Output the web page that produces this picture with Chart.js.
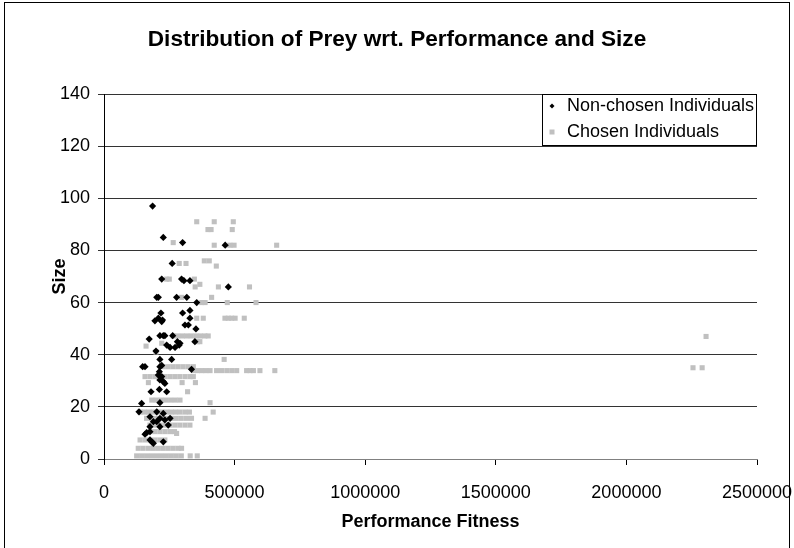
<!DOCTYPE html>
<html>
<head>
<meta charset="utf-8">
<title>Distribution of Prey wrt. Performance and Size</title>
<script src="https://cdn.jsdelivr.net/npm/chart.js@4.4.0/dist/chart.umd.min.js"></script>
<style>
  html, body { margin: 0; padding: 0; background: #fff; }
  #wrap { width: 794px; height: 548px; position: relative; }
</style>
</head>
<body>
<div id="wrap"><canvas id="chart" width="794" height="548"></canvas></div>
<script>
// Prey that were not chosen: performance fitness and size
const nonChosenFitness = [
  186000, 227000, 301000, 464000, 261000,
  221000, 297000, 306000, 329000,
  476000,
  202000, 208000, 278000, 317000,
  355000, 329000, 218000, 301000,
  195000, 208000, 221000, 224000, 310000, 323000, 329000, 352000,
  214000, 227000, 233000, 263000, 281000, 291000, 173000, 348000,
  240000, 253000, 272000, 288000, 199000,
  214000, 259000,
  148000, 157000, 214000, 221000, 335000,
  212000, 208000, 221000, 214000, 227000, 233000,
  180000, 212000, 240000,
  144000, 214000,
  134000, 202000, 227000,
  176000, 214000, 233000, 253000, 189000, 202000,
  176000, 214000, 246000,
  163000, 176000, 157000,
  176000, 183000, 189000, 227000
];
const nonChosenSize = [
  97, 85, 83, 82, 75,
  69, 69, 68.4, 68.4,
  66,
  62, 62, 62, 62,
  60, 57, 56, 56,
  53, 54, 52.7, 53.3, 51.4, 51.4, 54, 49.9,
  47.3, 47.3, 47.3, 47.3, 45, 44.4, 46, 45,
  43.7, 42.8, 42.8, 43.7, 41.4,
  38.2, 38.2,
  35.4, 35.4, 35.4, 35.9, 34.4,
  33.5, 32.2, 31.6, 30.3, 29.7, 29,
  25.8, 26.7, 25.8,
  21.3, 21.6,
  18.1, 18.1, 17.5,
  16.2, 15.6, 15, 15.6, 14.3, 14.3,
  12.4, 12.4, 13,
  10.1, 10.5, 9.5,
  7.3, 6.6, 6, 6.6
];

// Prey that were chosen: performance fitness and size
const chosenFitness = [
  355000, 422000, 495000,
  398000, 410000, 491000,
  265000,
  422000, 482000, 498000, 661000,
  384000, 403000,
  288000, 314000,
  430000,
  240000, 250000, 346000,
  367000,
  349000, 438000, 557000,
  297000, 412000,
  374000, 387000, 472000, 582000,
  355000, 380000, 463000, 476000, 489000, 502000, 537000,
  265000, 282000, 300000, 317000, 334000, 352000, 369000, 386000, 399000,
  358000, 367000,
  221000, 161000, 199000, 460000,
  227000, 246000, 265000, 284000, 303000, 322000, 342000,
  342000, 358000, 374000, 390000, 406000, 431000, 450000, 470000, 489000, 508000, 546000, 559000, 572000, 597000, 654000,
  157000, 176000, 195000, 214000, 233000, 252000, 271000, 290000, 310000, 329000, 342000,
  170000, 299000, 350000,
  320000,
  183000, 200000, 218000, 236000, 255000, 273000, 291000,
  406000,
  138000, 155000, 172000, 189000, 206000, 223000, 240000, 257000, 274000, 291000, 310000, 327000, 418000,
  163000, 182000, 201000, 220000, 239000, 258000, 277000, 296000, 316000, 335000, 387000,
  176000, 195000, 214000, 233000, 252000, 271000, 290000, 310000, 329000,
  176000, 195000, 214000, 233000, 252000, 270000, 278000,
  138000, 157000, 176000, 195000, 214000, 233000,
  131000, 150000, 170000, 189000, 208000, 227000, 246000, 265000, 284000, 297000,
  125000, 144000, 163000, 182000, 201000, 220000, 239000, 258000, 277000, 296000, 330000, 357000,
  2255000, 2290000, 2305000
];
const chosenSize = [
  91, 91, 91,
  88, 88, 88,
  83,
  82, 82, 82, 82,
  76, 76,
  75, 75,
  74,
  69, 69, 69,
  67,
  66, 66, 66,
  62, 62,
  60, 60, 60, 60,
  54, 54, 54, 54, 54, 54, 54,
  47.2, 47.2, 47.2, 47.2, 47.2, 47.2, 47.2, 47.2, 47.2,
  45, 45,
  44.4, 43.3, 41, 38.2,
  35.4, 35.4, 35.4, 35.4, 35.4, 35.4, 35.4,
  33.9, 33.9, 33.9, 33.9, 33.9, 33.9, 33.9, 33.9, 33.9, 33.9, 33.9, 33.9, 33.9, 33.9, 33.9,
  31.6, 31.6, 31.6, 31.6, 31.6, 31.6, 31.6, 31.6, 31.6, 31.6, 31.6,
  29.3, 29.3, 29.3,
  25.8,
  22.6, 22.6, 22.6, 22.6, 22.6, 22.6, 22.6,
  21.6,
  18, 18, 18, 18, 18, 18, 18, 18, 18, 18, 18, 18, 18,
  15.6, 15.6, 15.6, 15.6, 15.6, 15.6, 15.6, 15.6, 15.6, 15.6, 15.6,
  13, 13, 13, 13, 13, 13, 13, 13, 13,
  10.5, 10.5, 10.5, 10.5, 10.5, 10.5, 9.8,
  7.3, 7.3, 7.3, 7.3, 7.3, 7.3,
  4.1, 4.1, 4.1, 4.1, 4.1, 4.1, 4.1, 4.1, 4.1, 4.1,
  1.2, 1.2, 1.2, 1.2, 1.2, 1.2, 1.2, 1.2, 1.2, 1.2, 1.2, 1.2,
  35, 35, 47
];

const chartTitle = 'Distribution of Prey wrt. Performance and Size';
const seriesNames = ['Non-chosen Individuals', 'Chosen Individuals'];
const xTickValues = [0, 500000, 1000000, 1500000, 2000000, 2500000];

const toPoints = (xs, ys) => xs.map((x, i) => ({ x: x, y: ys[i] }));

const FONT = "'Liberation Sans', Arial, Helvetica, sans-serif";
Chart.defaults.font.family = FONT;
Chart.defaults.color = '#000';

// Outer frame and the heading, centred on the whole graphic
const framePlugin = {
  id: 'frame',
  afterDraw(chart) {
    const c = chart.ctx;
    c.save();
    c.strokeStyle = '#000';
    c.lineWidth = 1;
    c.strokeRect(4.5, 2.5, 785, 600);
    c.fillStyle = '#000';
    c.font = 'bold 22.6px ' + FONT;
    c.textAlign = 'center';
    c.textBaseline = 'middle';
    c.fillText(chartTitle, chart.width / 2, 40);
    c.restore();
  }
};

// Boxed legend in the upper right corner of the plot area
const boxLegendPlugin = {
  id: 'boxLegend',
  afterDraw(chart) {
    const c = chart.ctx;
    const area = chart.chartArea;
    const x0 = 542, y0 = area.top, x1 = area.right, y1 = 146;
    c.save();
    c.fillStyle = '#fff';
    c.fillRect(x0, y0, x1 - x0, y1 - y0);
    c.strokeStyle = '#000';
    c.lineWidth = 1;
    c.strokeRect(x0 + 0.5, y0 + 0.5, x1 - x0 - 1, y1 - y0 - 1);
    c.font = '18px ' + FONT;
    c.textBaseline = 'middle';
    c.textAlign = 'left';
    const rows = [y0 + 12, y0 + 38];
    chart.data.datasets.forEach((ds, i) => {
      const cy = rows[i];
      c.fillStyle = ds.backgroundColor;
      if (ds.pointStyle === 'rectRot') {
        c.beginPath();
        c.moveTo(552, cy - 2.5); c.lineTo(554.5, cy); c.lineTo(552, cy + 2.5); c.lineTo(549.5, cy);
        c.closePath(); c.fill();
      } else {
        c.fillRect(549.5, cy - 2.5, 5, 5);
      }
      c.fillStyle = '#000';
      c.fillText(ds.label, 567, cy);
    });
    c.restore();
  }
};

new Chart(document.getElementById('chart'), {
  type: 'scatter',
  data: {
    datasets: [
      {
        label: seriesNames[0],
        data: toPoints(nonChosenFitness, nonChosenSize),
        pointStyle: 'rectRot',
        pointRadius: 3.6,
        backgroundColor: '#000',
        borderWidth: 0
      },
      {
        label: seriesNames[1],
        data: toPoints(chosenFitness, chosenSize),
        pointStyle: 'rect',
        pointRadius: 3.6,
        backgroundColor: '#c0c0c0',
        borderWidth: 0
      }
    ]
  },
  options: {
    responsive: false,
    animation: false,
    events: [],
    layout: { padding: { left: 0, right: 37, top: 94, bottom: 0 } },
    plugins: {
      legend: { display: false },
      tooltip: { enabled: false },
      title: { display: false }
    },
    scales: {
      x: {
        type: 'linear',
        min: 0,
        max: 2500000,
        afterFit(scale) {
          scale.height = 89;
          scale.paddingLeft = 0;
          scale.paddingRight = 0;
        },
        afterBuildTicks(scale) { scale.ticks = xTickValues.map(v => ({ value: v })); },
        ticks: {
          font: { size: 18 },
          color: '#000',
          padding: 17,
          maxRotation: 0,
          callback: v => String(v)
        },
        grid: { drawOnChartArea: false, tickLength: 6, color: '#000' },
        border: { color: '#808080' },
        title: {
          display: true,
          text: 'Performance Fitness',
          color: '#000',
          font: { size: 18, weight: 'bold' },
          padding: { top: 0, bottom: 15 }
        }
      },
      y: {
        min: 0,
        max: 140,
        afterFit(scale) {
          scale.width = 104;
          scale.paddingTop = 0;
          scale.paddingBottom = 0;
        },
        ticks: { stepSize: 20, font: { size: 18 }, color: '#000', padding: 8 },
        grid: { color: '#333', tickLength: 6 },
        border: { color: '#000' },
        title: {
          display: true,
          text: 'Size',
          color: '#000',
          font: { size: 18, weight: 'bold' },
          padding: { top: 49, bottom: 0 }
        }
      }
    }
  },
  plugins: [framePlugin, boxLegendPlugin]
});
</script>
</body>
</html>
